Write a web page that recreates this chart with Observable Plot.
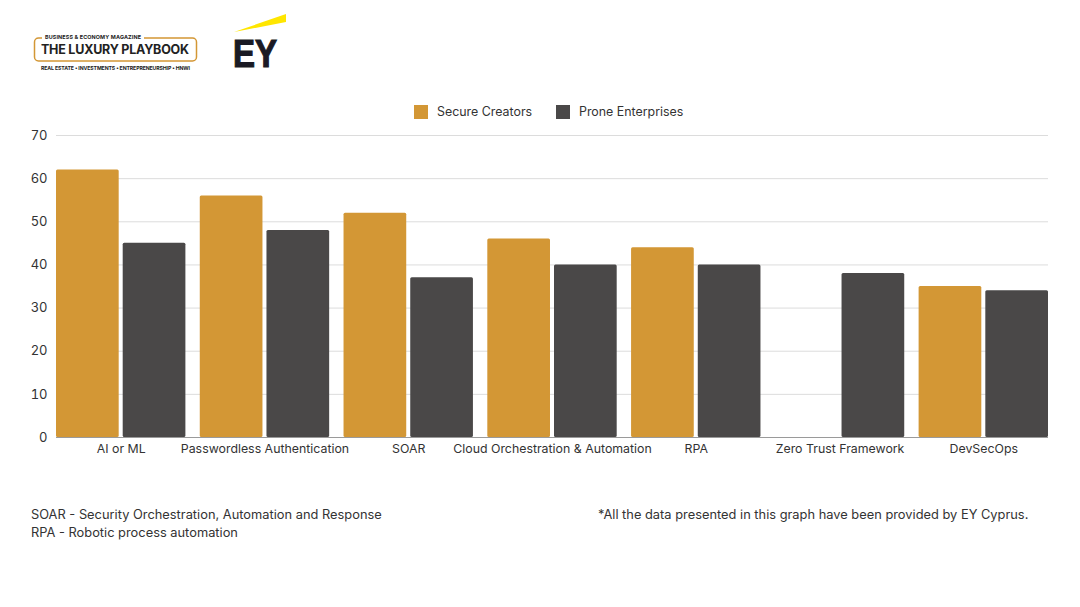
<!DOCTYPE html>
<html>
<head>
<meta charset="utf-8">
<script src="https://cdn.jsdelivr.net/npm/d3@7"></script>
<script src="https://cdn.jsdelivr.net/npm/@observablehq/plot@0.6"></script>
<style>
  html, body { margin: 0; padding: 0; background: #fff; }
  body { width: 1080px; height: 607px; position: relative; overflow: hidden; font-family: Inter, "Noto Sans", sans-serif; color: #333; }
  .abs { position: absolute; white-space: nowrap; }
  #chart { position: absolute; left: 0; top: 120px; }
  .t { font-size: 12.85px; line-height: 18px; color: #333; }
  .l { font-size: 12.4px; line-height: 18px; color: #333; }
  .sw { position: absolute; width: 14px; height: 14px; }
</style>
</head>
<body>
<svg class="abs" style="left:0;top:0" width="320" height="80" viewBox="0 0 320 80">
  <rect x="34.5" y="38" width="162" height="23" rx="4" fill="none" stroke="#d39735" stroke-width="1.5"/>
  <rect x="42" y="34" width="102" height="7" fill="#fff"/>
  <text x="45" y="39" font-family="Inter" font-size="5.4" font-weight="700" fill="#222" textLength="96">BUSINESS &amp; ECONOMY MAGAZINE</text>
  <text x="41" y="54" font-family="Inter" font-size="12.5" font-weight="700" fill="#222" textLength="148">THE LUXURY PLAYBOOK</text>
  <text x="41" y="70" font-family="Inter" font-size="5.2" font-weight="700" fill="#222" textLength="149">REAL ESTATE • INVESTMENTS • ENTREPRENEURSHIP • HNWI</text>
  <polygon points="234,32 286,14 286,22" fill="#ffe600"/>
  <text x="233" y="67" font-family="Liberation Sans" font-size="39" font-weight="700" fill="#1a1a24" stroke="#1a1a24" stroke-width="1.2" textLength="44" lengthAdjust="spacingAndGlyphs">EY</text>
</svg>

<div class="sw" style="left:413.5px;top:105px;background:#d39735"></div>
<div class="abs l" style="left:437px;top:102.5px">Secure Creators</div>
<div class="sw" style="left:556px;top:105px;background:#4a4848"></div>
<div class="abs l" style="left:579px;top:102.5px">Prone Enterprises</div>

<div id="chart"></div>

<div class="abs t" style="left:31px;top:506px">SOAR - Security Orchestration, Automation and Response</div>
<div class="abs t" style="left:31px;top:524px">RPA - Robotic process automation</div>
<div class="abs t" style="left:598px;top:506px">*All the data presented in this graph have been provided by EY Cyprus.</div>

<script>
const categories = ["AI or ML", "Passwordless Authentication", "SOAR", "Cloud Orchestration & Automation", "RPA", "Zero Trust Framework", "DevSecOps"];
const secureCreators = [62, 56, 52, 46, 44, null, 35];
const proneEnterprises = [45, 48, 37, 40, 40, 38, 34];
const yTicks = [0, 10, 20, 30, 40, 50, 60, 70];
const secureColor = "#d39735";
const proneColor = "#4a4848";

const toRows = values => categories.map((category, i) => ({category, value: values[i]})).filter(d => d.value != null);

const plot = Plot.plot({
  width: 1080,
  height: 350,
  marginLeft: 56,
  marginRight: 32,
  marginTop: 15,
  marginBottom: 33,
  style: {background: "transparent", fontFamily: "Inter, sans-serif", fontSize: "12.5px", color: "#333"},
  x: {domain: categories, round: false, paddingInner: 0.1, paddingOuter: 0, label: null},
  y: {domain: [0, 70], label: null},
  marks: [
    Plot.ruleY(yTicks.filter(d => d > 0), {stroke: "#dcdcdc", strokeWidth: 1}),
    Plot.axisY(yTicks, {anchor: "left", tickSize: 0, tickPadding: 9, label: null, fontSize: 13, fill: "#333"}),
    Plot.axisX({anchor: "bottom", tickSize: 0, tickPadding: 7, label: null, fontSize: 12.35, fill: "#333", lineWidth: 40}),
    Plot.barY(toRows(secureCreators), {x: "category", y: "value", fill: secureColor, insetRight: 66.7, rx: 1.5}),
    Plot.barY(toRows(proneEnterprises), {x: "category", y: "value", fill: proneColor, insetLeft: 66.7, rx: 1.5}),
    Plot.ruleY([0], {stroke: "#9a9a9a", strokeWidth: 1.2})
  ]
});
document.getElementById("chart").appendChild(plot);
</script>
</body>
</html>
